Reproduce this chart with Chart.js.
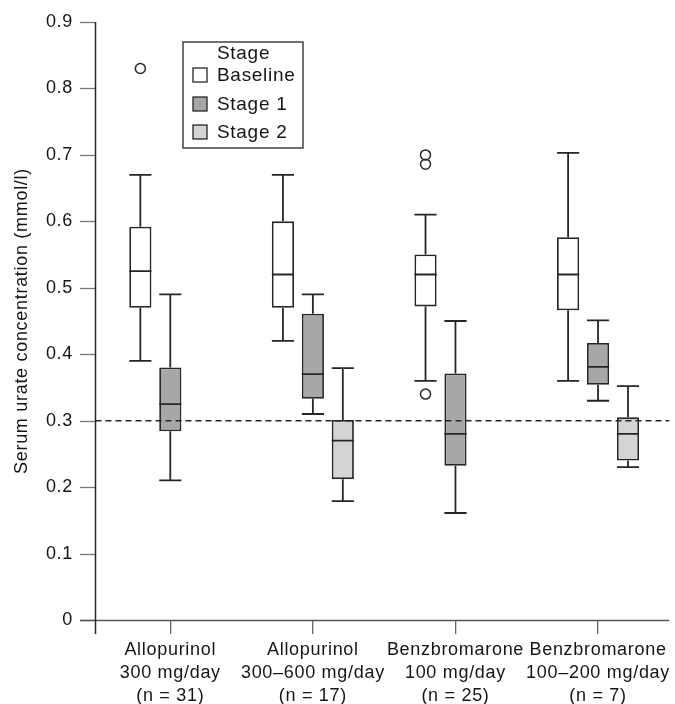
<!DOCTYPE html>
<html>
<head>
<meta charset="utf-8">
<script src="https://cdn.jsdelivr.net/npm/chart.js@4"></script>
<style>
  body { margin: 0; background: #fff; }
</style>
</head>
<body>
<canvas id="chart" width="675" height="704"></canvas>
<script>
var categories = [
    ['Allopurinol', '300 mg/day', '(n = 31)'],
    ['Allopurinol', '300–600 mg/day', '(n = 17)'],
    ['Benzbromarone', '100 mg/day', '(n = 25)'],
    ['Benzbromarone', '100–200 mg/day', '(n = 7)']
];
var stages = ['Baseline', 'Stage 1', 'Stage 2'];
var yTicks = [0, 0.1, 0.2, 0.3, 0.4, 0.5, 0.6, 0.7, 0.8, 0.9];
var target = 0.3;

// box plot values per stage, one entry per category
var baselineMin = [0.39, 0.42, 0.36, 0.36];
var baselineQ1 = [0.47, 0.47, 0.472, 0.466];
var baselineMed = [0.525, 0.52, 0.52, 0.52];
var baselineQ3 = [0.592, 0.60, 0.55, 0.576];
var baselineMax = [0.67, 0.67, 0.61, 0.703];
var baselineOut = [[0.83], [], [0.70, 0.686, 0.34], []];

var stage1Min = [0.21, 0.31, 0.161, 0.33];
var stage1Q1 = [0.284, 0.333, 0.232, 0.354];
var stage1Med = [0.325, 0.37, 0.28, 0.381];
var stage1Q3 = [0.38, 0.461, 0.371, 0.417];
var stage1Max = [0.49, 0.49, 0.45, 0.451];
var stage1Out = [[], [], [], []];

var stage2Min = [null, 0.179, null, 0.23];
var stage2Q1 = [null, 0.212, null, 0.24];
var stage2Med = [null, 0.27, null, 0.28];
var stage2Q3 = [null, 0.301, null, 0.305];
var stage2Max = [null, 0.379, null, 0.352];
var stage2Out = [[], [], [], []];

var colors = ['#ffffff', '#a7a7a9', '#d4d4d5'];
var ink = '#262626';
var textColor = '#151515';
var fontFamily = '"Liberation Sans", Arial, Helvetica, sans-serif';

function boxes(q1, q3) {
    return q1.map(function (v, i) { return v === null ? null : [v, q3[i]]; });
}

var stats = [
    {min: baselineMin, med: baselineMed, max: baselineMax, out: baselineOut, q1: baselineQ1, q3: baselineQ3},
    {min: stage1Min, med: stage1Med, max: stage1Max, out: stage1Out, q1: stage1Q1, q3: stage1Q3},
    {min: stage2Min, med: stage2Med, max: stage2Max, out: stage2Out, q1: stage2Q1, q3: stage2Q3}
];

var datasets = stages.map(function (s, i) {
    return {
        label: s,
        data: boxes(stats[i].q1, stats[i].q3),
        backgroundColor: colors[i],
        borderColor: ink,
        borderWidth: 1.8,
        borderSkipped: false,
        categoryPercentage: 0.63,
        barPercentage: 0.74
    };
});

var spacing = {
    id: 'spacing',
    beforeLayout: function (chart) { chart.ctx.letterSpacing = '0.7px'; },
    beforeDraw: function (chart) { chart.ctx.letterSpacing = '0.7px'; }
};

var axisX = 95.5; // y axis line sits a little left of the plot area

var axes = {
    id: 'axes',
    beforeDatasetsDraw: function (chart) {
        var ctx = chart.ctx;
        var y = chart.scales.y;
        var area = chart.chartArea;
        ctx.save();
        ctx.strokeStyle = '#777';
        ctx.lineWidth = 1.3;
        yTicks.forEach(function (v) {
            var py = Math.round(y.getPixelForValue(v)) + 0.5;
            ctx.beginPath();
            ctx.moveTo(80, py);
            ctx.lineTo(axisX, py);
            ctx.stroke();
        });
        ctx.strokeStyle = '#555';
        ctx.beginPath();
        ctx.moveTo(80, Math.round(area.bottom) + 0.5);
        ctx.lineTo(area.right, Math.round(area.bottom) + 0.5);
        ctx.stroke();
        ctx.strokeStyle = ink;
        ctx.lineWidth = 1.5;
        ctx.beginPath();
        ctx.moveTo(axisX, area.top);
        ctx.lineTo(axisX, area.bottom + 14);
        ctx.stroke();
        ctx.restore();
    }
};

var boxPlot = {
    id: 'boxPlot',
    afterDatasetsDraw: function (chart) {
        var ctx = chart.ctx;
        var y = chart.scales.y;
        var area = chart.chartArea;
        ctx.save();
        ctx.strokeStyle = ink;
        ctx.lineWidth = 1.8;
        stats.forEach(function (st, i) {
            var meta = chart.getDatasetMeta(i);
            meta.data.forEach(function (el, j) {
                if (st.q1[j] === null) return;
                var x = el.x, half = el.width / 2;
                var yMin = y.getPixelForValue(st.min[j]);
                var yMax = y.getPixelForValue(st.max[j]);
                var yQ1 = y.getPixelForValue(st.q1[j]);
                var yQ3 = y.getPixelForValue(st.q3[j]);
                var yMed = y.getPixelForValue(st.med[j]);
                ctx.beginPath();
                ctx.moveTo(x, yQ3); ctx.lineTo(x, yMax);
                ctx.moveTo(x - half, yMax); ctx.lineTo(x + half, yMax);
                ctx.moveTo(x, yQ1); ctx.lineTo(x, yMin);
                ctx.moveTo(x - half, yMin); ctx.lineTo(x + half, yMin);
                ctx.moveTo(x - half, yMed); ctx.lineTo(x + half, yMed);
                ctx.stroke();
                st.out[j].forEach(function (v) {
                    ctx.beginPath();
                    ctx.arc(x, y.getPixelForValue(v), 5, 0, Math.PI * 2);
                    ctx.lineWidth = 1.5;
                    ctx.stroke();
                    ctx.lineWidth = 1.8;
                });
            });
        });

        // reference line
        var yt = y.getPixelForValue(target);
        ctx.setLineDash([6, 4]);
        ctx.lineWidth = 1.5;
        ctx.beginPath();
        ctx.moveTo(axisX, yt);
        ctx.lineTo(area.right, yt);
        ctx.stroke();
        ctx.setLineDash([]);

        // legend
        var lx = 183, ly = 42;
        ctx.lineWidth = 1.3;
        ctx.fillStyle = '#fff';
        ctx.fillRect(lx, ly, 120, 106);
        ctx.strokeRect(lx, ly, 120, 106);
        ctx.font = '19px ' + fontFamily;
        ctx.fillStyle = textColor;
        ctx.textBaseline = 'middle';
        ctx.textAlign = 'left';
        ctx.fillText('Stage', lx + 34, 54);
        var rows = [75, 104, 132];
        stages.forEach(function (s, i) {
            ctx.fillStyle = colors[i];
            ctx.fillRect(lx + 10, rows[i] - 7, 14, 14);
            ctx.strokeRect(lx + 10, rows[i] - 7, 14, 14);
            ctx.fillStyle = textColor;
            ctx.fillText(s, lx + 34, rows[i] + 1);
        });
        ctx.restore();
    }
};

var ctx = document.getElementById('chart').getContext('2d');
var chart = new Chart(ctx, {
    type: 'bar',
    data: {
        labels: categories,
        datasets: datasets
    },
    options: {
        responsive: false,
        animation: false,
        layout: {padding: {top: 22, right: 0, left: 0, bottom: 0}},
        plugins: {
            legend: {display: false},
            tooltip: {enabled: false}
        },
        scales: {
            x: {
                grid: {display: true, drawOnChartArea: false, offset: false, tickLength: 14, color: '#666', lineWidth: 1.3},
                border: {display: false},
                ticks: {color: textColor, font: {family: fontFamily, size: 18, lineHeight: 1.27}, padding: 5, maxRotation: 0, autoSkip: false},
                afterFit: function (scale) { scale.height = 84; }
            },
            y: {
                min: 0,
                max: 0.9,
                afterBuildTicks: function (scale) {
                    scale.ticks = yTicks.map(function (v) { return {value: v}; });
                },
                // tick marks are drawn by the axes plugin; these only reserve room
                grid: {display: true, drawOnChartArea: false, tickLength: 22, color: 'rgba(0,0,0,0)'},
                border: {display: false},
                ticks: {
                    color: textColor,
                    font: {family: fontFamily, size: 18},
                    padding: 4,
                    callback: function (v) { return v === 0 ? '0' : v.toFixed(1); }
                },
                title: {
                    display: true,
                    text: 'Serum urate concentration (mmol/l)',
                    color: textColor,
                    font: {family: fontFamily, size: 18},
                    padding: {top: 11, bottom: 0}
                },
                afterFit: function (scale) { scale.width = 99; }
            }
        }
    },
    plugins: [spacing, axes, boxPlot]
});
</script>
</body>
</html>
